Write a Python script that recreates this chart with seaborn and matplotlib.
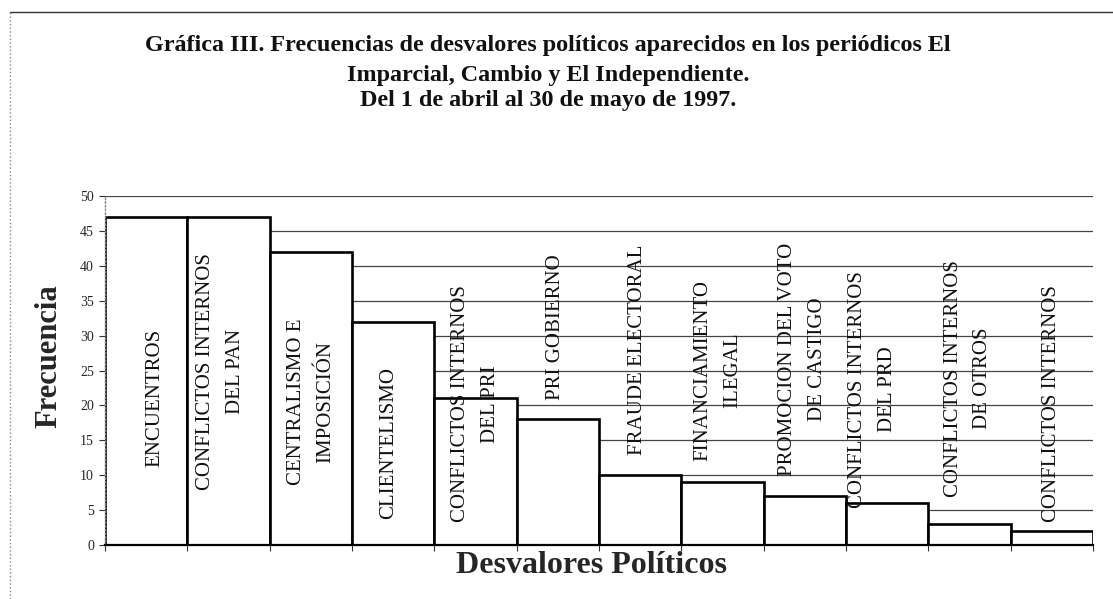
import numpy as np
import pandas as pd
import matplotlib.pyplot as plt
import seaborn as sns
from matplotlib.lines import Line2D

# Datos de la grafica
desvalores = [
    "ENCUENTROS",
    "CONFLICTOS INTERNOS\nDEL PAN",
    "CENTRALISMO E\nIMPOSICIÓN",
    "CLIENTELISMO",
    "CONFLICTOS INTERNOS\nDEL PRI",
    "PRI GOBIERNO",
    "FRAUDE ELECTORAL",
    "FINANCIAMIENTO\nILEGAL",
    "PROMOCION DEL VOTO\nDE CASTIGO",
    "CONFLICTOS INTERNOS\nDEL PRD",
    "CONFLICTOS INTERNOS\nDE OTROS",
    "CONFLICTOS INTERNOS",
]
frecuencias = [47, 47, 42, 32, 21, 18, 10, 9, 7, 6, 3, 2]
ticks_y = list(range(0, 51, 5))

# where each rotated label sits (centre height, sideways shift in bar widths)
label_y = [21.1, 24.8, 20.5, 14.6, 20.2, 31.2, 27.9, 25.0, 26.6, 22.3, 23.9, 20.3]
label_dx = [0.1, -0.1, 0.0, -0.05, 0.0, -0.03, -0.03, -0.06, -0.03, -0.18, -0.02, 0.0]

df = pd.DataFrame({'Desvalor': desvalores, 'Frecuencia': frecuencias})

sns.set_theme(style='white')
plt.rcParams['font.family'] = ['Liberation Serif', 'DejaVu Serif']

W, H = 1113, 599
fig = plt.figure(figsize=(W / 100, H / 100), dpi=100)
ax = fig.add_axes([105 / W, 1 - 545 / H, 988 / W, 349 / H])

ax.set_axisbelow(True)
ax.yaxis.grid(True, color='#444444', linewidth=0.9)
sns.barplot(data=df, x='Desvalor', y='Frecuencia', color='white', saturation=1,
            edgecolor='black', linewidth=1.9, width=1.0, ax=ax)

for i, lab in enumerate(desvalores):
    ax.text(i + label_dx[i], label_y[i], lab, rotation=90, ha='center', va='center',
            multialignment='center', fontsize=15, linespacing=1.75, zorder=5,
            color='#111111')

ax.set_xlim(-0.5, len(desvalores) - 0.5)
ax.set_ylim(0, 50)
ax.set_yticks(ticks_y)
ax.set_yticklabels([str(t) for t in ticks_y], fontsize=10)
ax.set_xticks(np.arange(len(desvalores) + 1) - 0.5)
ax.set_xticklabels([])
ax.tick_params(axis='both', which='both', direction='out', length=4, width=0.8,
               color='#333333', left=True, bottom=True, pad=4)

for s in ['top', 'right']:
    ax.spines[s].set_visible(False)
ax.spines['left'].set_color('#888888')
ax.spines['left'].set_linestyle(':')
ax.spines['left'].set_linewidth(1)
ax.spines['bottom'].set_color('black')
ax.spines['bottom'].set_linewidth(1.6)

ax.set_ylabel('Frecuencia', fontsize=22, fontweight='bold', ha='center', va='center')
ax.yaxis.set_label_coords((49 - 105) / 988, (545 - 356) / 349)
ax.set_xlabel('Desvalores Políticos', fontsize=23, fontweight='bold', va='baseline')
ax.xaxis.set_label_coords((592 - 105) / 988, (545 - 573) / 349)

titulo = [
    ("Gráfica III. Frecuencias de desvalores políticos aparecidos en los periódicos El", 51),
    ("Imparcial, Cambio y El Independiente.", 81),
    ("Del 1 de abril al 30 de mayo de 1997.", 106),
]
for linea, base in titulo:
    fig.text(548 / W, 1 - base / H, linea, ha='center', va='baseline',
             fontsize=17.4, fontweight='bold', color='#111111')

# page frame from the scan
fig.add_artist(Line2D([10 / W, 1], [1 - 12 / H] * 2, transform=fig.transFigure,
                      color='#333333', linewidth=1))
fig.add_artist(Line2D([10 / W, 10 / W], [0, 1 - 12 / H], transform=fig.transFigure,
                      color='#888888', linewidth=1, linestyle=':'))

fig.savefig('out.png', dpi=100, facecolor='white')
